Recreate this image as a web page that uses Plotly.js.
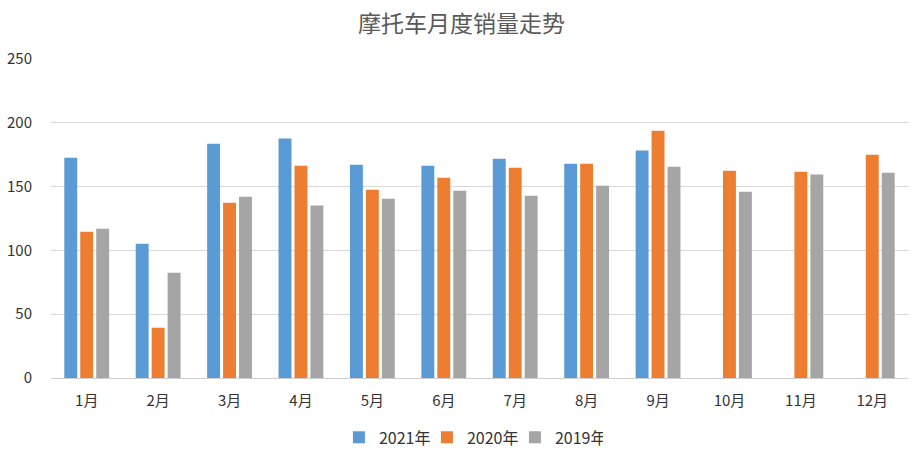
<!DOCTYPE html>
<html>
<head>
<meta charset="utf-8">
<script src="https://cdn.plot.ly/plotly-3.0.1.min.js"></script>
<style>html,body{margin:0;padding:0;background:#fff;}#chart{width:914px;height:451px;}</style>
</head>
<body>
<div id="chart"></div>
<script>
var months = ["1月","2月","3月","4月","5月","6月","7月","8月","9月","10月","11月","12月"];
var sales2021 = [172.7, 105.3, 183.6, 187.6, 167.2, 166.4, 171.9, 168.0, 178.2, null, null, null];
var sales2020 = [114.7, 39.4, 137.4, 166.4, 147.6, 157.0, 164.8, 168.0, 193.8, 162.5, 161.7, 175.0];
var sales2019 = [117.0, 82.5, 142.1, 135.1, 140.5, 146.8, 142.9, 150.7, 165.6, 146.0, 159.4, 160.9];
var seriesNames = ["2021年", "2020年", "2019年"];
var colors = ["#5B9BD5", "#ED7D31", "#A5A5A5"];
var yTicks = [0, 50, 100, 150, 200, 250];

var font = "Noto Sans CJK SC, Noto Sans, sans-serif";
var traces = [sales2021, sales2020, sales2019].map(function (vals, i) {
  return {
    type: "bar",
    x: months,
    y: vals,
    name: seriesNames[i],
    marker: {color: colors[i]},
    hoverinfo: "x+y+name"
  };
});

var layout = {
  width: 914,
  height: 451,
  margin: {l: 51, r: 6, t: 59, b: 73, autoexpand: false},
  paper_bgcolor: "#ffffff",
  plot_bgcolor: "#ffffff",
  barmode: "group",
  bargap: 0.33,
  bargroupgap: 0.19,
  title: {
    text: "摩托车月度销量走势",
    font: {family: font, size: 23, color: "#595959"},
    x: 0.505,
    xanchor: "center",
    y: 0.948,
    yanchor: "middle"
  },
  xaxis: {
    type: "category",
    showgrid: false,
    showline: false,
    zeroline: false,
    ticks: "",
    ticklabelstandoff: 12,
    tickfont: {family: font, size: 15, color: "#333333"}
  },
  yaxis: {
    range: [0, 250],
    tickvals: yTicks,
    ticktext: yTicks.map(String),
    showgrid: true,
    gridcolor: "#d9d9d9",
    gridwidth: 1,
    zeroline: true,
    zerolinecolor: "#cfcfcf",
    zerolinewidth: 1,
    showline: false,
    ticks: "",
    ticklabelstandoff: 18,
    tickfont: {family: font, size: 15, color: "#333333"}
  },
  showlegend: true,
  legend: {
    orientation: "h",
    x: 0.49,
    xanchor: "center",
    yref: "container",
    y: 0.03,
    yanchor: "middle",
    font: {family: font, size: 16, color: "#333333"},
    itemwidth: 30,
    entrywidth: 43,
    entrywidthmode: "pixels",
    traceorder: "normal"
  }
};

Plotly.newPlot("chart", traces, layout, {displayModeBar: false, staticPlot: true});
</script>
</body>
</html>
